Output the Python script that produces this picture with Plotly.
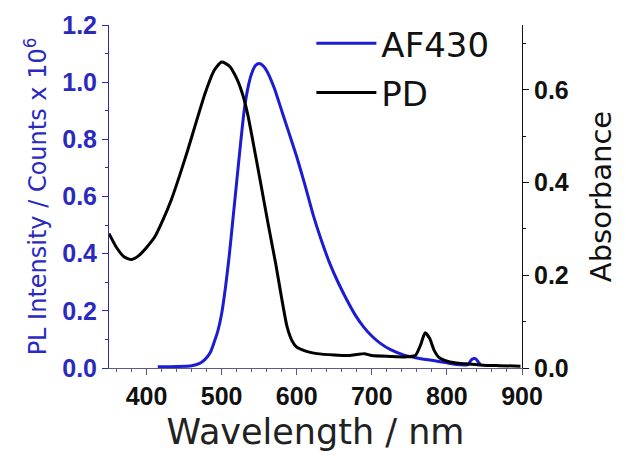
import plotly.graph_objects as go

# PD absorbance spectrum (right axis)
wl_pd = [350, 360, 370, 380, 390, 400, 411, 422, 433, 444, 455, 466, 478, 490,
         500, 510, 520, 528, 535, 545, 553, 562, 572, 580, 587, 594, 600, 613,
         627, 650, 670, 680, 690, 700, 724, 745, 758, 765, 771, 777, 783, 790,
         804, 825, 848, 870, 898]
abs_pd = [0.29, 0.26, 0.24, 0.234, 0.243, 0.26, 0.283, 0.32, 0.363, 0.415, 0.471,
          0.53, 0.593, 0.642, 0.66, 0.652, 0.625, 0.59, 0.545, 0.46, 0.39, 0.31,
          0.225, 0.15, 0.09, 0.058, 0.045, 0.036, 0.031, 0.028, 0.027, 0.029,
          0.031, 0.027, 0.025, 0.024, 0.027, 0.05, 0.076, 0.064, 0.038, 0.022,
          0.013, 0.009, 0.006, 0.005, 0.004]

# AF430 photoluminescence spectrum (left axis, counts x 10^6)
wl_af = [415, 440, 460, 470, 478, 485, 490, 495, 500, 505, 510, 515, 520, 525,
         530, 535, 540, 545, 550, 555, 560, 570, 580, 590, 600, 611, 622, 633,
         644, 655, 667, 678, 689, 700, 711, 725, 742, 760, 782, 800, 818, 828,
         833, 838, 842, 845]
pl_af = [0.004, 0.005, 0.008, 0.015, 0.03, 0.055, 0.09, 0.13, 0.19, 0.28, 0.39,
         0.52, 0.65, 0.78, 0.9, 0.98, 1.03, 1.058, 1.065, 1.058, 1.04, 0.98, 0.9,
         0.82, 0.739, 0.64, 0.535, 0.445, 0.366, 0.3, 0.237, 0.185, 0.144, 0.112,
         0.087, 0.064, 0.046, 0.035, 0.026, 0.018, 0.011, 0.012, 0.03, 0.033,
         0.02, 0.01]

x_ticks = [400, 500, 600, 700, 800, 900]
left_ticks = [0.0, 0.2, 0.4, 0.6, 0.8, 1.0, 1.2]
right_ticks = [0.0, 0.2, 0.4, 0.6]

BLUE = "#1c1cd2"
AXIS_BLUE = "#2a2ac0"
TEXT_FONT = "DejaVu Sans"
TICK_FONT = "Liberation Sans"

fig = go.Figure()
fig.add_trace(go.Scatter(
    x=wl_af, y=pl_af, name="AF430", mode="lines",
    line=dict(color=BLUE, width=3, shape="spline", smoothing=0.6),
    legendgroup="a", yaxis="y",
))
fig.add_trace(go.Scatter(
    x=wl_pd, y=abs_pd, name="PD", mode="lines",
    line=dict(color="#000000", width=3, shape="spline", smoothing=0.6),
    legendgroup="b", yaxis="y2",
))

tick_common = dict(ticks="outside", ticklen=6, tickwidth=1, showgrid=False,
                   zeroline=False, showline=True, linewidth=1)

fig.update_layout(
    width=626, height=461,
    margin=dict(l=109, r=104, t=25, b=93),
    paper_bgcolor="white", plot_bgcolor="white",
    showlegend=True,
    legend=dict(x=0.49, y=1.03, xanchor="left", yanchor="top",
                font=dict(family=TEXT_FONT, size=34, color="#111111"),
                bgcolor="rgba(0,0,0,0)", tracegroupgap=2, itemwidth=60),
    xaxis=dict(
        range=[350, 900], tickvals=x_ticks, linecolor="#5a5a8a",
        tickcolor="#5a5a8a",
        tickfont=dict(family=TICK_FONT, size=25, color="#111111", weight="bold"),
        minor=dict(dtick=20, tick0=0, ticks="outside", ticklen=3,
                   tickcolor="#5a5a8a"),
        title=dict(text="Wavelength / nm", standoff=10,
                   font=dict(family=TEXT_FONT, size=35, color="#222222")),
        **tick_common,
    ),
    yaxis=dict(
        range=[0, 1.2], tickvals=left_ticks, tickformat=".1f",
        linecolor=AXIS_BLUE, tickcolor=AXIS_BLUE,
        tickfont=dict(family=TICK_FONT, size=25, color=AXIS_BLUE, weight="bold"),
        minor=dict(dtick=0.1, ticks="outside", ticklen=3, tickcolor=AXIS_BLUE),
        title=dict(text="PL Intensity / Counts x 10<sup>6</sup>", standoff=8,
                   font=dict(family=TEXT_FONT, size=24, color=AXIS_BLUE)),
        **tick_common,
    ),
    yaxis2=dict(
        range=[0, 0.74], tickvals=right_ticks, tickformat=".1f",
        overlaying="y", side="right", anchor="x",
        linecolor="#111111", tickcolor="#111111",
        tickfont=dict(family=TICK_FONT, size=25, color="#111111", weight="bold"),
        minor=dict(dtick=0.1, ticks="outside", ticklen=3, tickcolor="#111111"),
        title=dict(text="Absorbance", standoff=22,
                   font=dict(family=TEXT_FONT, size=29, color="#111111")),
        **tick_common,
    ),
)

fig.write_html("out.html")
